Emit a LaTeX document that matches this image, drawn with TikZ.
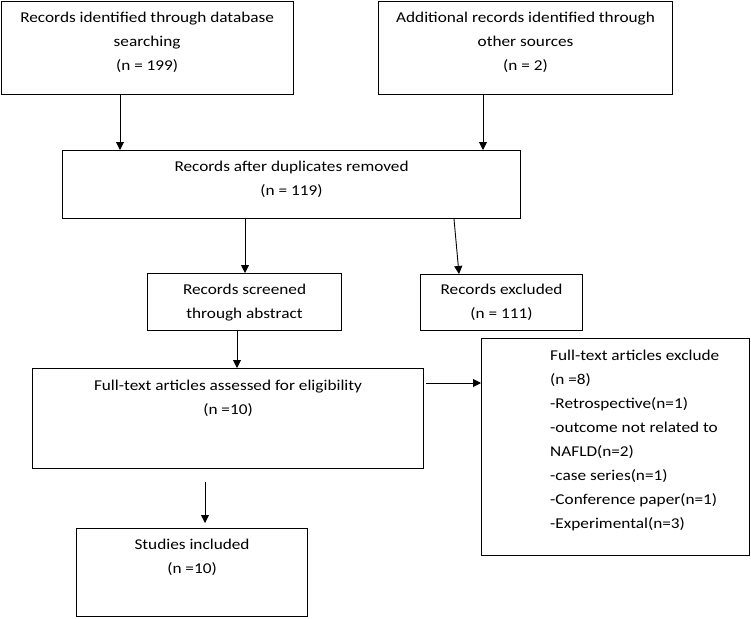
\documentclass[tikz,border=0pt]{standalone}
\usepackage{fontspec}
\setmainfont{Carlito}[FakeStretch=1.15]
\usetikzlibrary{arrows.meta,positioning}
\tikzstyle{box}=[draw,line width=1.1pt,inner sep=0pt,anchor=north west]
\tikzstyle{txt}=[inner sep=0pt,align=center,font=\fontsize{15}{24}\selectfont]
\tikzstyle{arr}=[-{Triangle[length=8pt,width=8pt]},line width=0.9pt]

\begin{document}
\begin{tikzpicture}[x=1pt,y=-1pt]
  \useasboundingbox (0,0) rectangle (751,618);
  % Boxes
  \node[box,minimum width=292pt,minimum height=93pt] (db) at (0.6,0.6) {};
  \node[box,minimum width=294pt,minimum height=93pt] (other) at (378,0.6) {};
  \node[box,minimum width=458pt,minimum height=68pt] (dup) at (62,150) {};
  \node[box,minimum width=194pt,minimum height=57pt] (scr) at (147,273) {};
  \node[box,minimum width=162pt,minimum height=56pt] (excl) at (420,274) {};
  \node[box,minimum width=391pt,minimum height=100pt] (full) at (32,368) {};
  \node[box,minimum width=268pt,minimum height=217pt] (fexcl) at (481,338) {};
  \node[box,minimum width=231pt,minimum height=88pt] (incl) at (76,528) {};
  % Texts
  \node[txt,below=11pt of db.north] (db-t) {Records identified through database\\searching\\(n = 199)};
  \node[txt,below=11pt of other.north] (other-t) {Additional records identified through\\other sources\\(n = 2)};
  \node[txt,below=11pt of dup.north] (dup-t) {Records after duplicates removed\\(n = 119)};
  \node[txt,below=11pt of scr.north] (scr-t) {Records screened\\through abstract};
  \node[txt,below=10pt of excl.north] (excl-t) {Records excluded\\(n = 111)};
  \node[txt,below=12pt of full.north] (full-t) {Full-text articles assessed for eligibility\\(n =10)};
  \node[txt,align=left,below right=12pt and 69pt of fexcl.north west] (fexcl-t)
    {Full-text articles exclude\\(n =8)\\-Retrospective(n=1)\\-outcome not related to\\NAFLD(n=2)\\-case series(n=1)\\-Conference paper(n=1)\\-Experimental(n=3)};
  \node[txt,below=11pt of incl.north] (incl-t) {Studies included\\(n =10)};
  % Arrows
  \coordinate (c1) at (120,0);
  \coordinate (c2) at (483,0);
  \coordinate (c3) at (245,0);
  \coordinate (c4) at (454,0);
  \coordinate (c5) at (459,0);
  \coordinate (c6) at (237,0);
  \coordinate (c7) at (426,383);
  \coordinate (c8) at (205,482);
  \draw[arr] (db.south -| c1) -- (dup.north -| c1);
  \draw[arr] (other.south -| c2) -- (dup.north -| c2);
  \draw[arr] (dup.south -| c3) -- (scr.north -| c3);
  \draw[arr] (dup.south -| c4) -- (excl.north -| c5);
  \draw[arr] (scr.south -| c6) -- (full.north -| c6);
  \draw[arr] (c7) -- (fexcl.west |- c7);
  \draw[arr,shorten >=5pt] (c8) -- (incl.north -| c8);
\end{tikzpicture}
\end{document}
